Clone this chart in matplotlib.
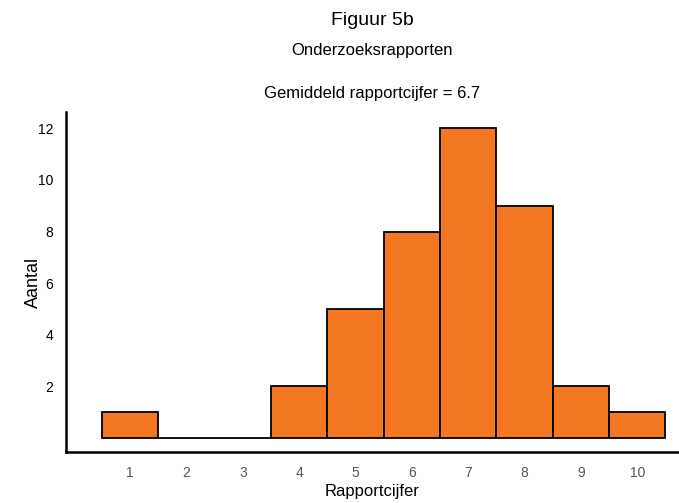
import matplotlib.pyplot as plt

plt.rcParams["font.family"] = ["Liberation Sans", "DejaVu Sans"]

# histogram of report grades
grades = [1, 2, 3, 4, 5, 6, 7, 8, 9, 10]
counts = [1, 0, 0, 2, 5, 8, 12, 9, 2, 1]
y_ticks = [2, 4, 6, 8, 10, 12]

fig = plt.figure(figsize=(6.79, 5.03), dpi=100)
ax = fig.add_axes([0.0972, 0.1014, 0.9028, 0.6759])

ax.bar(grades, counts, width=1.0, color="#F47721", edgecolor="black", linewidth=1.3)

ax.set_xlim(-0.14, 10.74)
ax.set_ylim(-0.54, 12.63)
ax.set_xticks(grades)
ax.set_yticks(y_ticks)
ax.tick_params(length=0, labelsize=10)
ax.tick_params(axis="x", labelcolor="#555555", pad=10)
ax.tick_params(axis="y", pad=9)

for side in ["top", "right"]:
    ax.spines[side].set_visible(False)
for side in ["left", "bottom"]:
    ax.spines[side].set_linewidth(1.8)

ax.set_xlabel("Rapportcijfer", fontsize=12, labelpad=3)
ax.set_ylabel("Aantal", fontsize=13, labelpad=-3)

fig.text(0.548, 0.96, "Figuur 5b", ha="center", va="center", fontsize=14)
fig.text(0.548, 0.90, "Onderzoeksrapporten", ha="center", va="center", fontsize=12)
fig.text(0.548, 0.815, "Gemiddeld rapportcijfer = 6.7", ha="center", va="center", fontsize=12)

fig.savefig("out.png", dpi=100)
